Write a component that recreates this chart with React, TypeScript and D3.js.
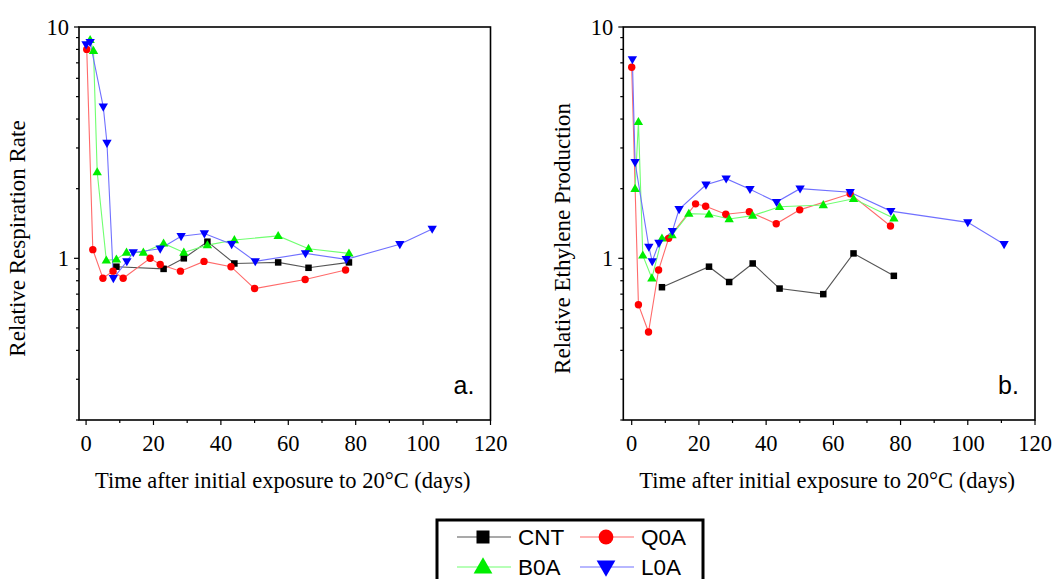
import React from "react";
import * as d3 from "d3";

// ---- Data (panel a: relative respiration rate) ----
const respDaysCNT = [9, 23, 29, 36, 44, 57, 66, 78];
const respCNT = [0.92, 0.9, 1.0, 1.18, 0.95, 0.96, 0.91, 0.96];
const respDaysQ0A = [0.2, 2, 5, 8, 11, 19, 22, 28, 35, 43, 50, 65, 77];
const respQ0A = [8.0, 1.09, 0.82, 0.88, 0.82, 1.0, 0.94, 0.88, 0.97, 0.92, 0.74, 0.81, 0.89];
const respDaysB0A = [1.2, 2.2, 3.3, 6, 9, 12, 17, 23, 29, 36, 44, 57, 66, 78];
const respB0A = [8.8, 7.9, 2.36, 0.98, 0.99, 1.06, 1.06, 1.16, 1.06, 1.14, 1.2, 1.25, 1.1, 1.05];
const respDaysL0A = [0, 1.2, 5.1, 6.2, 8.1, 12.1, 14, 22, 28.2, 35.1, 43.2, 50.2, 65.1, 77.2, 93.1, 102.7];
const respL0A = [8.4, 8.6, 4.52, 3.15, 0.82, 0.97, 1.06, 1.1, 1.245, 1.28, 1.15, 0.97, 1.05, 0.99, 1.15, 1.34];

// ---- Data (panel b: relative ethylene production) ----
const ethDaysCNT = [9, 23, 29, 36, 44, 57, 66, 78];
const ethCNT = [0.75, 0.92, 0.79, 0.95, 0.74, 0.7, 1.05, 0.84];
const ethDaysQ0A = [0, 2, 5, 8, 11, 19, 22, 28, 35, 43, 50, 65, 77];
const ethQ0A = [6.7, 0.63, 0.48, 0.89, 1.22, 1.72, 1.68, 1.55, 1.59, 1.41, 1.62, 1.9, 1.38];
const ethDaysB0A = [1, 2, 3.3, 6, 9, 12, 17, 23, 29, 36, 44, 57, 66, 78];
const ethB0A = [2.0, 3.89, 1.03, 0.82, 1.22, 1.26, 1.56, 1.55, 1.48, 1.53, 1.67, 1.7, 1.81, 1.49];
const ethDaysL0A = [0.2, 1, 5.1, 6.1, 8.1, 12.1, 14.1, 22.1, 28.1, 35.2, 43.1, 50.1, 65, 77.1, 100, 110.8];
const ethL0A = [7.24, 2.6, 1.12, 0.97, 1.165, 1.31, 1.63, 2.08, 2.21, 1.99, 1.75, 2.0, 1.93, 1.6, 1.43, 1.15];

const xTicks = [0, 20, 40, 60, 80, 100, 120];
const xMinorTicks = [10, 30, 50, 70, 90, 110];
const yMajorTicks = [1, 10];
const yMinorTicks = [0.2, 0.3, 0.4, 0.5, 0.6, 0.7, 0.8, 0.9, 2, 3, 4, 5, 6, 7, 8, 9];

const seriesNames = ["CNT", "Q0A", "B0A", "L0A"];
const seriesColors = ["#000000", "#ff0000", "#00ee00", "#0000ff"];
const seriesLine = ["#555555", "#ff6a6a", "#70ff70", "#7070ff"];

type Series = { name: string; days: number[]; vals: number[] };

const SERIF = "'Liberation Serif', 'Times New Roman', serif";
const SANS = "'Liberation Sans', Arial, sans-serif";

function Marker({ i, x, y, big }: { i: number; x: number; y: number; big?: boolean }) {
  const k = big ? 2 : 1;
  const c = seriesColors[i];
  if (i === 0) {
    const s = 6.5 * k;
    return <rect x={x - s / 2} y={y - s / 2} width={s} height={s} fill={c} />;
  }
  if (i === 1) return <circle cx={x} cy={y} r={3.7 * k} fill={c} />;
  const path = d3.symbol().type(d3.symbolTriangle).size(38 * k * k)()!;
  return (
    <path
      d={path}
      fill={c}
      transform={`translate(${x},${y + (i === 3 ? -0.5 : 0.5) * k}) rotate(${i === 3 ? 180 : 0})`}
    />
  );
}

function Panel({
  left,
  right,
  xMin,
  series,
  ylabel,
  tag,
  ylabelX,
}: {
  left: number;
  right: number;
  xMin: number;
  series: Series[];
  ylabel: string;
  tag: string;
  ylabelX: number;
}) {
  const top = 27;
  const bottom = 420;
  const x = d3.scaleLinear().domain([xMin, 120]).range([left, right]);
  const y = d3.scaleLog().domain([0.2, 10]).range([bottom, top]);
  const line = d3
    .line<[number, number]>()
    .x((d) => x(d[0]))
    .y((d) => y(d[1]));
  return (
    <g>
      <rect x={left} y={top} width={right - left} height={bottom - top} fill="none" stroke="#000" strokeWidth={1.6} />
      {xTicks.map((t) => (
        <g key={"xt" + t}>
          <line x1={x(t)} x2={x(t)} y1={bottom} y2={bottom + 5} stroke="#000" strokeWidth={1.2} />
          <text x={x(t)} y={450.5} textAnchor="middle" fontFamily={SERIF} fontSize={22.5}>
            {t}
          </text>
        </g>
      ))}
      {xMinorTicks.map((t) => (
        <line key={"xm" + t} x1={x(t)} x2={x(t)} y1={bottom} y2={bottom + 3} stroke="#000" strokeWidth={1.2} />
      ))}
      {yMajorTicks.map((t) => (
        <g key={"yt" + t}>
          <line x1={left - 5} x2={left} y1={y(t)} y2={y(t)} stroke="#000" strokeWidth={1.2} />
          <text x={left - 10} y={y(t) + 7.5} textAnchor="end" fontFamily={SERIF} fontSize={22.5}>
            {t}
          </text>
        </g>
      ))}
      {yMinorTicks.map((t) => (
        <line key={"ym" + t} x1={left - 3} x2={left} y1={y(t)} y2={y(t)} stroke="#000" strokeWidth={1.2} />
      ))}
      <text
        x={(left + right) / 2 - 2}
        y={488}
        textAnchor="middle"
        fontFamily={SERIF}
        fontSize={22.5}
      >
        Time after initial exposure to 20°C (days)
      </text>
      <text
        transform={`translate(${ylabelX},${(top + bottom) / 2 + 15}) rotate(-90)`}
        textAnchor="middle"
        fontFamily={SERIF}
        fontSize={23}
      >
        {ylabel}
      </text>
      <text x={right - 37} y={394} fontFamily={SANS} fontSize={25}>
        {tag}
      </text>
      {series.map((s, i) => {
        const pts = s.days.map((d, j) => [d, s.vals[j]] as [number, number]);
        return (
          <g key={s.name}>
            <path d={line(pts)!} fill="none" stroke={seriesLine[i]} strokeWidth={1.1} />
          </g>
        );
      })}
      {series.map((s, i) => (
        <g key={s.name + "m"}>
          {s.days.map((d, j) => (
            <Marker key={j} i={i} x={x(d)} y={y(s.vals[j])} />
          ))}
        </g>
      ))}
    </g>
  );
}

export default function App() {
  const seriesA: Series[] = [
    { name: "CNT", days: respDaysCNT, vals: respCNT },
    { name: "Q0A", days: respDaysQ0A, vals: respQ0A },
    { name: "B0A", days: respDaysB0A, vals: respB0A },
    { name: "L0A", days: respDaysL0A, vals: respL0A },
  ];
  const seriesB: Series[] = [
    { name: "CNT", days: ethDaysCNT, vals: ethCNT },
    { name: "Q0A", days: ethDaysQ0A, vals: ethQ0A },
    { name: "B0A", days: ethDaysB0A, vals: ethB0A },
    { name: "L0A", days: ethDaysL0A, vals: ethL0A },
  ];
  const legendPos = [
    [457, 537],
    [580, 537],
    [457, 567],
    [580, 567],
  ];
  return (
    <svg
      width={1053}
      height={579}
      style={{ position: "absolute", left: 0, top: 0, background: "#fff" }}
    >
      <rect x={0} y={0} width={1053} height={579} fill="#fff" />
      <Panel left={79} right={490.5} xMin={-2.1} series={seriesA} ylabel="Relative Respiration Rate" tag="a." ylabelX={25} />
      <Panel left={623.3} right={1035} xMin={-2.5} series={seriesB} ylabel="Relative Ethylene Production" tag="b." ylabelX={570} />
      <rect x={437} y={520} width={266} height={80} fill="none" stroke="#000" strokeWidth={3} />
      {seriesNames.map((n, i) => {
        const [lx, ly] = legendPos[i];
        return (
          <g key={n}>
            <line x1={lx} x2={lx + 54} y1={ly} y2={ly} stroke={seriesLine[i]} strokeWidth={1.1} />
            <Marker i={i} x={lx + 26} y={ly} big />
            <text x={lx + 61} y={ly + 8} fontFamily={SANS} fontSize={22.5}>
              {n}
            </text>
          </g>
        );
      })}
    </svg>
  );
}
